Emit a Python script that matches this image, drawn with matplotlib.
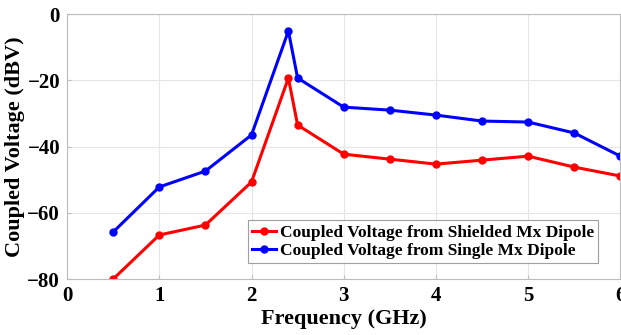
import matplotlib
matplotlib.use("Agg")
import matplotlib.pyplot as plt

freq = [0.5, 1.0, 1.5, 2.0, 2.4, 2.5, 3.0, 3.5, 4.0, 4.5, 5.0, 5.5, 6.0]
shielded = [-80.0, -66.7, -63.7, -50.7, -19.3, -33.5, -42.3, -43.8, -45.3, -44.1, -42.9, -46.2, -48.9]
single = [-65.8, -52.2, -47.4, -36.5, -5.1, -19.3, -28.1, -29.0, -30.5, -32.3, -32.6, -35.9, -42.9]

plt.rcParams['font.family'] = ['Liberation Serif', 'DejaVu Serif']
plt.rcParams['font.weight'] = 'bold'

fig = plt.figure(figsize=(6.21, 3.35), dpi=100)
ax = fig.add_axes([0.108, 0.167, 0.891, 0.791])

ax.plot(freq, shielded, color='red', lw=2.2, marker='o', ms=5,
        label='Coupled Voltage from Shielded Mx Dipole')
ax.plot(freq, single, color='blue', lw=2.2, marker='o', ms=5,
        label='Coupled Voltage from Single Mx Dipole')

ax.set_xlim(0, 6)
ax.set_ylim(-80, 0)
ax.set_xticks(range(0, 7))
ax.set_yticks([-80, -60, -40, -20, 0])
ax.grid(True, color='#e6e6e6', lw=0.8)
for s in ax.spines.values():
    s.set_color('#bdbdbd')
ax.tick_params(direction='in', length=3, color='#bdbdbd', labelsize=15, pad=5)
for lab in ax.get_xticklabels() + ax.get_yticklabels():
    lab.set_fontweight('bold')

ax.set_xlabel('Frequency (GHz)', fontsize=16, fontweight='bold', labelpad=2)
ax.set_ylabel('Coupled Voltage (dBV)', fontsize=16, fontweight='bold', labelpad=2)

leg = ax.legend(loc='lower right', bbox_to_anchor=(0.96, 0.06), fontsize=12.5,
                frameon=True, fancybox=False, handlelength=1.4, handletextpad=0.2,
                borderpad=0.25, labelspacing=0.1, borderaxespad=0)
leg.get_frame().set_edgecolor('#888888')
leg.get_frame().set_linewidth(0.8)
for t in leg.get_texts():
    t.set_fontweight('bold')

fig.savefig('out.png', dpi=100)
